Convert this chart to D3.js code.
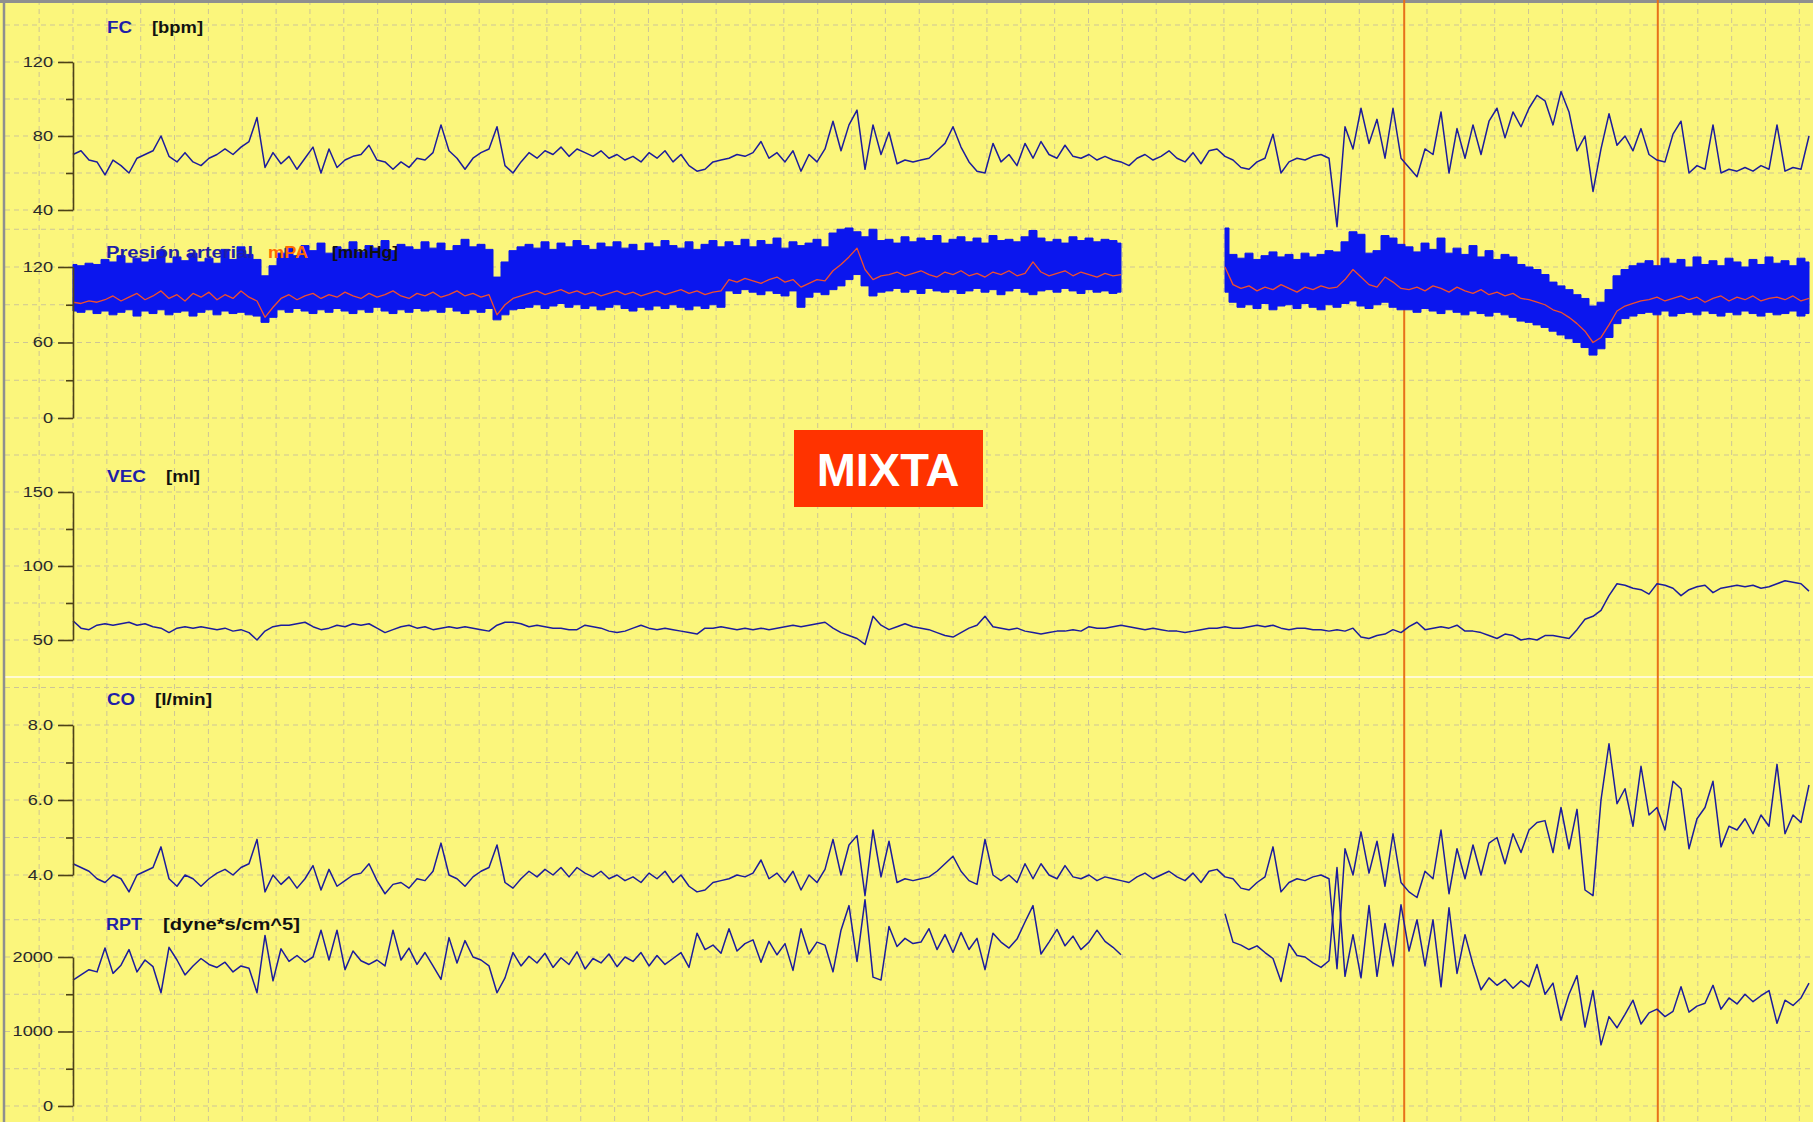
<!DOCTYPE html>
<html>
<head>
<meta charset="utf-8">
<script src="https://cdn.jsdelivr.net/npm/d3@7"></script>
<style>
  body { margin: 0; background: #fbf67c; }
  svg { display: block; }
</style>
</head>
<body>
<div id="chart"></div>
<script>
// ---------- data (one sample every 8 px of the original trace) ----------
const fc = [
  70,72,67,66,59,67,64,60,68,70, 72,80,69,66,71,66,64,68,70,73,
  70,74,77,90,63,71,65,69,62,68, 74,60,73,63,67,69,70,75,67,66,
  62,66,63,68,67,71,86,72,68,62, 68,71,73,85,64,60,66,71,68,72,
  70,74,69,73,71,69,72,68,70,67, 69,66,71,68,72,66,70,64,61,62,
  66,67,68,70,69,71,77,68,71,66, 72,61,70,66,73,88,72,86,94,62,
  86,70,82,65,67,66,67,68,72,76, 85,74,66,61,60,76,66,70,64,76,
  68,77,70,68,75,69,68,70,67,69, 67,66,64,68,70,67,69,72,68,66,
  71,65,72,73,69,67,63,62,66,68, 81,60,66,68,67,69,70,68,31,85,
  73,95,76,89,68,95,68,63,58,73, 70,93,60,84,68,86,70,88,95,79,
  93,85,95,102,99,86,104,93,72,80, 50,73,92,75,80,72,84,70,67,66,
  81,88,60,64,62,86,60,62,61,63, 61,64,62,86,61,63,62,80
];

const _ = null;
const bpSys = [
  122,121,123,122,126,124,129,123,127,124,126,133,123,128,125,131,124,127,123,134,126,136,130,126,
  113,121,
  131,135,129,137,133,139,131,136,134,140,132,137,135,141,133,138,136,134,140,135,139,133,137,142,136,138,134,
  112,124,133,136,
  138,135,140,134,139,136,141,137,134,139,136,140,135,138,133,139,136,141,137,135,140,134,138,141,136,
  140,137,142,136,141,138,143,135,140,137,139,142,136,147,150,
  151,148,144,150,141,
  142,139,144,140,143,141,145,139,142,144,140,143,139,145,141,142,140,144,149,143,140,142,139,144,141,143,140,142,141,139,
  _,_,_,_,_,_,_,_,_,_,_,_,
  151,
  130,127,131,126,129,132,128,130,126,131,128,130,133,
  132,140,148,146,131,133,145,143,138,
  136,132,139,134,143,131,135,130,137,128,133,126,130,128,
  122,120,118,114,108,105,102,98,95,89,92,102,113,118,121,123,
  125,121,127,123,126,120,128,122,125,121,127,124,120,126,122,128,123,125,121,127,124
];
const bpDia = [
  85,84,86,83,85,82,84,86,81,85,83,86,82,84,85,81,84,86,82,85,83,84,82,81,
  76,80,
  86,84,87,85,83,86,84,87,85,83,86,84,88,85,83,86,84,87,85,86,84,88,85,83,86,84,87,
  78,82,86,87,
  88,90,87,89,91,88,90,87,89,86,88,90,87,85,88,86,89,87,90,88,86,89,87,90,88,
  101,99,102,100,98,101,99,97,101,88,96,100,98,102,105,
  110,114,105,97,100,
  101,103,100,102,99,103,101,100,102,99,101,103,100,102,98,101,103,100,98,101,102,100,103,101,99,102,100,101,99,100,
  _,_,_,_,_,_,_,_,_,_,_,_,
  100,
  92,88,90,87,91,86,89,90,87,91,88,86,90,
  88,91,93,89,87,90,92,88,86,
  86,84,87,85,83,86,84,82,85,83,81,84,82,80,
  77,76,74,72,69,66,63,60,56,50,55,64,75,79,81,83,
  84,82,85,81,83,84,82,85,83,81,84,82,85,83,81,84,82,83,85,81,83
];
const bpMean = [
  92,91,93,92,94,97,93,96,99,94,97,101,95,98,93,99,96,100,94,98,95,101,96,93,
  80,88,
  95,98,94,97,99,95,98,96,100,97,95,99,96,98,101,97,95,99,97,100,96,98,101,97,99,96,98,
  82,90,95,97,
  99,101,98,100,102,99,101,98,100,97,99,101,98,100,97,99,101,98,100,102,99,101,98,100,101,
  110,108,111,109,107,110,112,108,110,104,107,110,109,117,122,
  128,135,118,110,113,
  114,116,113,115,117,114,112,116,114,117,113,115,112,116,114,117,113,115,124,116,113,115,117,113,116,114,112,115,113,114,
  _,_,_,_,_,_,_,_,_,_,_,_,
  120,
  106,103,105,101,104,102,106,103,100,104,102,105,103,
  104,110,118,112,106,104,112,108,103,
  102,104,101,105,103,100,104,101,99,102,98,100,97,99,
  95,94,92,90,86,84,80,75,69,60,64,74,85,89,91,93,
  94,96,93,95,97,94,96,92,95,97,93,96,94,97,93,95,96,94,97,93,95
];

const vec = [
  63,58,57,60,61,60,61,62,60,61, 59,58,55,58,59,58,59,58,57,58,
  56,57,55,50,56,59,60,60,61,62, 59,57,58,60,59,61,60,61,58,55,
  57,59,60,58,59,57,58,59,58,59, 58,57,56,60,62,62,61,59,60,59,
  58,58,57,57,60,59,58,56,55,56, 58,60,58,57,58,57,56,55,54,58,
  58,59,58,57,58,57,58,57,58,59, 60,59,60,61,62,58,55,53,51,47,
  66,60,57,59,61,59,58,57,55,53, 52,55,58,60,66,59,58,57,58,56,
  55,54,55,56,56,57,56,59,58,58, 59,60,59,58,57,58,57,56,56,55,
  56,57,58,58,59,58,58,59,60,59, 60,58,57,58,58,57,57,56,57,56,
  58,52,51,53,54,57,55,59,62,57, 58,59,58,60,56,56,55,53,51,54,
  53,50,51,50,53,53,52,51,57,64, 66,70,80,88,87,85,84,81,88,87,
  85,80,84,86,87,82,85,86,87,86, 87,85,86,88,90,89,88,83
];

const co = [
  4.3,4.2,4.1,3.9,3.8,4.0,3.9,3.55,4.0,4.1, 4.2,4.75,3.9,3.7,4.0,3.9,3.7,3.9,4.05,4.15,
  4.0,4.2,4.3,4.95,3.55,4.0,3.75,3.95,3.65,3.9, 4.25,3.6,4.15,3.7,3.85,4.0,4.05,4.3,3.85,3.5,
  3.75,3.8,3.65,3.9,3.85,4.1,4.85,4.0,3.9,3.7, 3.95,4.1,4.2,4.8,3.8,3.65,3.9,4.1,3.95,4.15,
  4.0,4.2,3.95,4.2,4.05,3.95,4.1,3.9,4.0,3.85, 3.95,3.8,4.05,3.9,4.1,3.8,4.0,3.7,3.55,3.6,
  3.8,3.85,3.9,4.0,3.95,4.05,4.4,3.9,4.05,3.8, 4.1,3.6,4.0,3.8,4.15,4.95,4.0,4.8,5.05,3.45,
  5.2,3.95,4.9,3.8,3.9,3.85,3.9,3.95,4.1,4.3, 4.5,4.1,3.85,3.75,4.95,4.0,3.85,4.0,3.8,4.3,
  3.9,4.3,4.0,3.9,4.25,3.95,3.9,4.0,3.85,3.95, 3.9,3.85,3.8,3.95,4.05,3.9,4.0,4.1,3.95,3.85,
  4.05,3.8,4.1,4.15,3.95,3.9,3.65,3.6,3.8,3.95, 4.75,3.55,3.8,3.9,3.85,3.95,4.0,3.9,1.5,4.7,
  4.0,5.15,4.05,4.9,3.7,5.1,3.8,3.55,3.4,4.1, 3.9,5.2,3.5,4.7,3.9,4.8,4.0,4.85,5.0,4.3,
  5.1,4.6,5.2,5.4,5.45,4.6,5.8,4.7,5.75,3.6, 3.45,6.0,7.5,5.9,6.3,5.3,6.9,5.6,5.8,5.2,
  6.5,6.3,4.7,5.5,5.8,6.5,4.75,5.3,5.2,5.5, 5.1,5.6,5.3,6.95,5.1,5.6,5.4,6.4
];

const rpt = [
  1690,1760,1830,1800,2120,1780,1890,2100,1800,1960, 1870,1520,2130,1960,1760,1880,1980,1900,1860,1930,
  1800,1880,1850,1520,2290,1680,2110,1940,2020,1930, 2000,2360,1960,2360,1830,2080,1950,1900,1960,1880,
  2360,1960,2120,1900,2060,1880,1700,2260,1920,2220, 2000,1960,1880,1520,1720,2060,1880,2010,1920,2050,
  1860,1990,1900,2070,1840,1980,1920,2040,1870,2000, 1940,2060,1880,2020,1900,1980,2060,1860,2320,2100,
  2160,2050,2380,2080,2180,2230,1930,2210,2030,2180, 1820,2380,2040,2200,2160,1800,2360,2690,1940,2770,
  1730,1690,2410,2140,2250,2180,2200,2380,2100,2300, 2060,2330,2100,2250,1830,2320,2200,2120,2240,2470,
  2690,2040,2200,2370,2150,2280,2100,2200,2360,2210, 2130,2030,_,_,_,_,_,_,_,_,
  _,_,_,_,2580,2200,2160,2100,2150,2060, 1980,1670,2180,2020,2000,1920,1860,1950,3200,1740,
  2300,1720,2690,1740,2450,1880,2700,2080,2500,1880, 2500,1600,2660,1780,2300,1900,1560,1720,1620,1700,
  1580,1680,1600,1900,1500,1650,1150,1500,1750,1060, 1550,820,1200,1050,1230,1420,1100,1250,1300,1200,
  1270,1600,1260,1340,1380,1620,1300,1450,1370,1500, 1400,1480,1550,1110,1420,1350,1450,1650
];

// event markers (sample index)
const markers = [166.4, 198.1];

// axis ticks / grid levels for each strip
const fcTicks = [120, 80, 40],      fcMinor = [100, 60],   fcGrid = [140, 120, 100, 80, 60, 40];
const bpTicks = [120, 60, 0],       bpMinor = [90, 30],    bpGrid = [150, 120, 90, 60, 30, 0];
const vecTicks = [150, 100, 50],    vecMinor = [125, 75],  vecGrid = [175, 150, 125, 100, 75, 50];
const coTicks = [8, 6, 4],          coMinor = [7, 5],      coGrid = [9, 8, 7, 6, 5, 4];
const rptTicks = [2000, 1000, 0],   rptMinor = [1500, 500], rptGrid = [2500, 2000, 1500, 1000, 500, 0];

// ---------- drawing ----------
const W = 1813, H = 1122;
const axisX = 73;
const traceColor = "#1c1c9c";
const axisColor = "#4d4215";
const gridColor = "#cdc596";

const svg = d3.select("#chart").append("svg")
  .attr("width", W).attr("height", H)
  .style("font-family", "'Liberation Sans', Arial, sans-serif");

svg.append("rect").attr("width", W).attr("height", H).attr("fill", "#fbf67c");

const n = fc.length;
const idx = d3.range(n);
const x = d3.scaleLinear().domain([0, n - 1]).range([axisX, axisX + 8 * (n - 1)]);

// strips
const panels = [
  {dom: [40, 120], rng: [210, 62],   ticks: fcTicks,  minor: fcMinor,  grid: fcGrid,  fmt: d3.format("d")},
  {dom: [0, 120],  rng: [418, 267],  ticks: bpTicks,  minor: bpMinor,  grid: bpGrid,  fmt: d3.format("d")},
  {dom: [50, 150], rng: [640, 492],  ticks: vecTicks, minor: vecMinor, grid: vecGrid, fmt: d3.format("d")},
  {dom: [4, 8],    rng: [875, 725],  ticks: coTicks,  minor: coMinor,  grid: coGrid,  fmt: d3.format(".1f")},
  {dom: [0, 2000], rng: [1106, 957], ticks: rptTicks, minor: rptMinor, grid: rptGrid, fmt: d3.format("d")}
];
panels.forEach(p => p.y = d3.scaleLinear().domain(p.dom).range(p.rng));
const [yFC, yBP, yVEC, yCO, yRPT] = panels.map(p => p.y);

// vertical dashed grid
const gridG = svg.append("g").attr("class", "grid")
  .attr("stroke", gridColor).attr("stroke-width", 1).attr("stroke-dasharray", "5,4");
gridG.selectAll(".vgrid")
  .data(d3.range(axisX - 33.85, W, 33.85))
  .enter().append("line")
  .attr("x1", d => d).attr("x2", d => d)
  .attr("y1", 0).attr("y2", H);

// horizontal dashed grid, per strip
panels.forEach(p => {
  gridG.selectAll(null)
    .data(p.grid)
    .enter().append("line")
    .attr("x1", 5).attr("x2", W)
    .attr("y1", d => p.y(d)).attr("y2", d => p.y(d));
});

// light separator between the pressure / volume block and the flow block
svg.append("line")
  .attr("x1", 5).attr("x2", W).attr("y1", 677).attr("y2", 677)
  .attr("stroke", "#fffbd2").attr("stroke-width", 2);

// frame
svg.append("line").attr("x1", 4).attr("x2", 4).attr("y1", 0).attr("y2", H)
  .attr("stroke", "#8f8f8f").attr("stroke-width", 2.5);
svg.append("line").attr("x1", 0).attr("x2", W).attr("y1", 1.5).attr("y2", 1.5)
  .attr("stroke", "#8f8f8f").attr("stroke-width", 3);

// orange event markers
svg.selectAll(".marker")
  .data(markers)
  .enter().append("line")
  .attr("class", "marker")
  .attr("x1", d => x(d)).attr("x2", d => x(d))
  .attr("y1", 0).attr("y2", H)
  .attr("stroke", "#e8701a").attr("stroke-width", 2);

// arterial pressure band (systolic / diastolic) and mean
const bpArea = d3.area()
  .defined(i => bpSys[i] != null)
  .curve(d3.curveStep)
  .x(i => x(i))
  .y0(i => yBP(bpDia[i]))
  .y1(i => yBP(bpSys[i]));
svg.append("path")
  .attr("d", bpArea(idx))
  .attr("fill", "#0b16ee")
  .attr("stroke", "#0b16ee")
  .attr("stroke-width", 1);

function trace(arr, y, color, width) {
  const line = d3.line()
    .defined(i => arr[i] != null)
    .x(i => x(i))
    .y(i => y(arr[i]));
  svg.append("path")
    .attr("d", line(idx))
    .attr("fill", "none")
    .attr("stroke", color)
    .attr("stroke-width", width)
    .attr("stroke-linejoin", "round");
}
trace(bpMean, yBP, "#f0502c", 1.3);
trace(fc, yFC, traceColor, 1.5);
trace(vec, yVEC, traceColor, 1.5);
trace(co, yCO, traceColor, 1.5);
trace(rpt, yRPT, traceColor, 1.5);

// axes
panels.forEach(p => {
  const gMajor = svg.append("g").attr("transform", `translate(${axisX},0)`)
    .call(d3.axisLeft(p.y).tickValues(p.ticks).tickSize(15).tickSizeOuter(0).tickFormat(p.fmt));
  const gMinor = svg.append("g").attr("transform", `translate(${axisX},0)`)
    .call(d3.axisLeft(p.y).tickValues(p.minor).tickSize(7).tickSizeOuter(0).tickFormat(""));
  gMinor.select(".domain").remove();
  [gMajor, gMinor].forEach(g => {
    g.selectAll("path, line").attr("stroke", axisColor).attr("stroke-width", 1.6);
  });
  gMajor.selectAll("text")
    .attr("x", 0)
    .attr("transform", "translate(-20,0) scale(1.3,1)")
    .attr("fill", "#2a2a2a")
    .style("font-size", "14px")
    .style("font-family", "'Liberation Sans', Arial, sans-serif");
});

// strip titles
const titles = [
  {t: "FC", x: 107, y: 33, w: 25, c: "#1f1fa8"},
  {t: "[bpm]", x: 152, y: 33, w: 51, c: "#111"},
  {t: "Presión arterial", x: 106, y: 258, w: 147, c: "#1f1fa8"},
  {t: "mPA", x: 268, y: 258, w: 40, c: "#ff6a00"},
  {t: "[mmHg]", x: 332, y: 258, w: 66, c: "#111"},
  {t: "VEC", x: 107, y: 482, w: 39, c: "#1f1fa8"},
  {t: "[ml]", x: 166, y: 482, w: 34, c: "#111"},
  {t: "CO", x: 107, y: 705, w: 28, c: "#1f1fa8"},
  {t: "[l/min]", x: 155, y: 705, w: 57, c: "#111"},
  {t: "RPT", x: 106, y: 930, w: 36, c: "#1f1fa8"},
  {t: "[dyne*s/cm^5]", x: 163, y: 930, w: 137, c: "#111"}
];
svg.selectAll(".title")
  .data(titles)
  .enter().append("text")
  .attr("class", "title")
  .attr("x", d => d.x).attr("y", d => d.y)
  .attr("textLength", d => d.w)
  .attr("lengthAdjust", "spacingAndGlyphs")
  .attr("fill", d => d.c)
  .style("font-size", "16px")
  .style("font-weight", "bold")
  .text(d => d.t);

// MIXTA tag
svg.append("rect")
  .attr("x", 794).attr("y", 430).attr("width", 189).attr("height", 77)
  .attr("fill", "#ff3300");
svg.append("text")
  .attr("x", 888).attr("y", 486)
  .attr("text-anchor", "middle")
  .attr("fill", "#fff")
  .style("font-size", "47px")
  .style("font-weight", "bold")
  .text("MIXTA");
</script>
</body>
</html>
